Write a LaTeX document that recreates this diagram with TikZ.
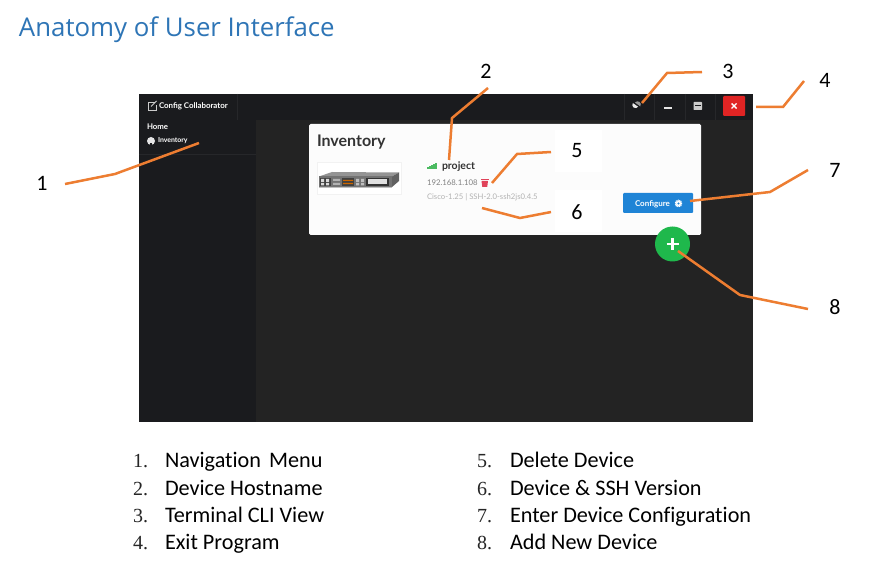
\documentclass[tikz,border=0pt]{standalone}
\usepackage{fontspec}
\setmainfont[Ligatures=NoCommon]{Carlito}
\newfontfamily\uifont{Lato}
\newfontfamily\titlefont{Open Sans}
\newfontfamily\numfont{Liberation Serif}
\definecolor{barbg}{HTML}{1A1B1E}
\definecolor{mainbg}{HTML}{232323}
\definecolor{divider}{HTML}{26272A}
\definecolor{callout}{HTML}{ED7D31}
\definecolor{titleblue}{HTML}{2E75B6}
\definecolor{closered}{HTML}{E02424}
\definecolor{cfgblue}{HTML}{1F84D6}
\definecolor{addgreen}{HTML}{1FB84C}
\definecolor{cardbg}{HTML}{FCFCFC}
\definecolor{sig}{HTML}{4CBB62}
\definecolor{trash}{HTML}{E0435A}
\tikzset{
  x=1pt,y=-1pt,
  every node/.style={inner sep=0pt,outer sep=0pt},
  callline/.style={draw=callout,line width=2.5pt,line join=miter},
  calllabel/.style={font=\fontsize{22}{24}\selectfont,text=black},
  listnum/.style={anchor=base west,font=\numfont\fontsize{20}{24}\selectfont,text=black!85},
  listitem/.style={anchor=base west,font=\fontsize{22.2}{24}\selectfont,text=black},
  uiwhite/.style={anchor=base west,text=white,font=\uifont\bfseries\fontsize{#1}{#1}\selectfont},
  uigray/.style={anchor=base west,font=\uifont\fontsize{#1}{#1}\selectfont},
  blank/.style={fill=white,draw=none}
}
\begin{document}
\begin{tikzpicture}
\useasboundingbox (0,0) rectangle (870,569);
\fill[white] (0,0) rectangle (870,569);
\node[anchor=base west,text=titleblue,font=\titlefont\fontsize{25.8}{28}\selectfont] (title) at (19,37) {Anatomy of User Interface};
% window
\fill[mainbg] (139,94) rectangle (753,422);
\fill[barbg] (139,94) rectangle (753,120);
\fill[barbg] (139,120) rectangle (256,422);
\draw[divider,line width=.8pt] (139,154) -- (256,154);
\draw[divider,line width=.8pt] (237,94) -- (237,120);
\foreach \xx in {624,654,685,715}{\draw[divider,line width=.8pt] (\xx,94) -- (\xx,120);}
% sidebar
\draw[white!80!black,line width=.8pt] (155,102) -- (148,102) -- (148,110) -- (156,110) -- (156,105);
\draw[white!80!black,line width=1pt] (151,106.5) -- (156.5,101);
\node[uiwhite=7.9] (app) at (159,108.2) {Config Collaborator};
\node[uiwhite=7.8] (home) at (147,129.3) {Home};
\fill[white!90!black] (151,141) circle[radius=4];
\fill[barbg] (150,143) rectangle (152,145.5);
\node[uiwhite=6.9] (inv) at (158,143) {Inventory};
% card
\node[draw=none,fill=cardbg,rounded corners=1.5pt,minimum width=392,minimum height=111,anchor=north west] (card) at (309,124) {};
\node[anchor=base west,text=black!80,font=\uifont\bfseries\fontsize{16}{16}\selectfont] (invhead) at (317,146.5) {Inventory};
\draw[black!5,fill=white] (317,162) rectangle (401,194);
% router
\fill[black!42] (319,176.5) -- (332,172) -- (399,172.5) -- (392,176.5) -- cycle;
\fill[black!62] (392,176.5) -- (399,172.5) -- (399,181) -- (392,187) -- cycle;
\fill[black!55] (319,176.5) rectangle (392,188);
\fill[black!25] (319,187) rectangle (392,188.5);
\fill[black!75] (320,178) rectangle (331,186);
\fill[white!85!black] (321,179) rectangle (324,182) (326,179) rectangle (329,182) (321,183) rectangle (324,185.5) (326,183) rectangle (329,185.5);
\fill[black!30] (333,179) rectangle (340,181) (333,183) rectangle (340,185);
\fill[black!75] (342,178.5) rectangle (354,186.5);
\fill[orange!80!black] (343,180) rectangle (353,181) (343,183) rectangle (353,184.2);
\fill[black!25] (356,179) rectangle (359,182) (361,179) rectangle (364,182) (356,183) rectangle (359,185.5) (361,183) rectangle (364,185.5);
\fill[black!80] (366,178.5) rectangle (389,186);
\fill[white!88!black] (368,179.5) rectangle (387,184);
% device info
\foreach \i/\h in {0/2,1/3,2/4,3/5,4/6.5}{\fill[sig] ({427+2.1*\i},169.5) rectangle ++(1.6,-\h);}
\node[anchor=base west,text=black!80,font=\uifont\bfseries\fontsize{10.5}{10.5}\selectfont] (host) at (442,170) {project};
\node[uigray=7.8,text=black!50] (ip) at (427,186) {192.168.1.108};
\fill[trash,rounded corners=.4pt] (481.5,181) -- (488,181) -- (487.2,187) -- (482.3,187) -- cycle;
\fill[trash] (481,179.5) rectangle (488.5,180.5);
\node[uigray=7.7,text=black!30] (ver) at (427,200) {Cisco-1.25 | SSH-2.0-ssh2js0.4.5};
\node[fill=cfgblue,rounded corners=1pt,minimum width=70,minimum height=20,anchor=north west] (cfg) at (623,193) {};
\node[uiwhite=8] (cfgtext) at (635,206.3) {Configure};
\draw[white,line width=1.6pt,dash pattern=on 1pt off .6pt] (678.5,203.5) circle[radius=3];
\fill[white] (678.5,203.5) circle[radius=2.6];
\fill[cfgblue] (678.5,203.5) circle[radius=1.2];
% white patches behind 5 and 6
\fill[blank] (555,130) rectangle (602,172);
\fill[blank] (555,190) rectangle (602,232);
% add button
\node[circle,fill=addgreen,minimum size=35] (add) at (672.5,244) {};
\draw[white,line width=2.6pt] (666.5,244) -- (678.5,244) (672.5,238) -- (672.5,250);
% top-right controls
\node[fill=closered,rounded corners=1pt,minimum width=22,minimum height=20,anchor=north west] (close) at (723,96) {};
\draw[white,line width=1.4pt] (731.5,103.5) -- (736.5,108.5) (736.5,103.5) -- (731.5,108.5);
\fill[white!90!black] (664,107) rectangle (672,109);
\fill[white!80!black,rounded corners=.7pt] (693.5,102) rectangle (702,110);
\fill[barbg] (695,105) rectangle (700.5,106);
\begin{scope}[rotate around={-35:(637,105)}]
\fill[white!92!black] (632.5,105.8) arc[start angle=180,end angle=0,radius=3.2] -- cycle;
\fill[white!60!black] (634,104.2) arc[start angle=180,end angle=360,radius=3.2] -- cycle;
\end{scope}
% callout labels
\node[calllabel] (n1) at (42,183) {1};
\node[calllabel] (n2) at (486,71) {2};
\node[calllabel] (n3) at (728,71) {3};
\node[calllabel] (n4) at (825,80) {4};
\node[calllabel] (n5) at (577,151) {5};
\node[calllabel] (n6) at (577,212) {6};
\node[calllabel] (n7) at (835,170) {7};
\node[calllabel] (n8) at (835,307) {8};
% callout connector points
\coordinate (a1) at (65,184); \coordinate (b1) at (115,174); \coordinate (c1) at (199,143);
\coordinate (a2) at (488,88); \coordinate (b2) at (452,118); \coordinate (c2) at (449,160);
\coordinate (a3) at (702,72); \coordinate (b3) at (667,73); \coordinate (c3) at (642,103);
\coordinate (a4) at (756,107); \coordinate (b4) at (783,107); \coordinate (c4) at (804,81);
\coordinate (a5) at (551,152); \coordinate (b5) at (517,154); \coordinate (c5) at (492,183);
\coordinate (a6) at (551,212); \coordinate (b6) at (520,218); \coordinate (c6) at (482,208);
\coordinate (a7) at (808,170); \coordinate (b7) at (770,192); \coordinate (c7) at (690,201);
\coordinate (a8) at (808,309); \coordinate (b8) at (740,295); \coordinate (c8) at (678,251);
\foreach \k in {1,...,8}{\draw[callline] (a\k) -- (b\k) -- (c\k);}
% lists
\node[listnum] (l1n) at (133,467) {1.};
\node[listnum] (l2n) at (133,495) {2.};
\node[listnum] (l3n) at (133,522) {3.};
\node[listnum] (l4n) at (133,549) {4.};
\node[listitem] (l1) at (165,467) {Navigation\hspace{3pt} Menu};
\node[listitem] (l2) at (165,495) {Device Hostname};
\node[listitem] (l3) at (165,522) {Terminal CLI View};
\node[listitem] (l4) at (165,549) {Exit Program};
\node[listnum] (r1n) at (477,467) {5.};
\node[listnum] (r2n) at (477,495) {6.};
\node[listnum] (r3n) at (477,522) {7.};
\node[listnum] (r4n) at (477,549) {8.};
\node[listitem] (r1) at (510,467) {Delete Device};
\node[listitem] (r2) at (510,495) {Device \& SSH Version};
\node[listitem] (r3) at (510,522) {Enter Device Configuration};
\node[listitem] (r4) at (510,549) {Add New Device};
\end{tikzpicture}
\end{document}
